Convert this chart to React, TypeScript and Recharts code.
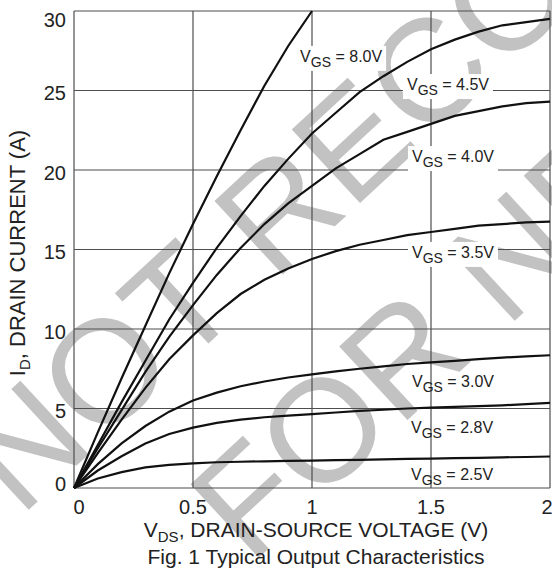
import React from 'react';
import { LineChart, Line, XAxis, YAxis, CartesianGrid, ReferenceDot } from 'recharts';

const vds = [0, 0.1, 0.2, 0.3, 0.4, 0.5, 0.6, 0.7, 0.8, 0.9, 1.0, 1.1, 1.2, 1.3, 1.4, 1.5, 1.6, 1.7, 1.8, 1.9, 2.0];
const id80 = [0, 3.5, 6.9, 10.2, 13.5, 16.6, 19.6, 22.5, 25.3, 27.8, 30, null, null, null, null, null, null, null, null, null, null];
const id45 = [0, 2.7, 5.4, 8.0, 10.6, 12.9, 15.1, 17.1, 19.0, 20.7, 22.3, 23.6, 24.9, 25.9, 26.8, 27.6, 28.2, 28.7, 29.1, 29.3, 29.5];
const id40 = [0, 2.5, 4.9, 7.3, 9.5, 11.5, 13.4, 15.1, 16.6, 17.9, 19.0, 20.1, 21.0, 21.9, 22.4, 22.9, 23.4, 23.7, 24.0, 24.2, 24.3];
const id35 = [0, 2.2, 4.3, 6.3, 8.1, 9.6, 11.0, 12.2, 13.1, 13.8, 14.4, 14.9, 15.3, 15.6, 15.9, 16.1, 16.3, 16.5, 16.6, 16.7, 16.75];
const id30 = [0, 1.5, 2.8, 3.9, 4.8, 5.5, 6.0, 6.4, 6.7, 6.95, 7.15, 7.33, 7.5, 7.65, 7.8, 7.9, 8.0, 8.1, 8.2, 8.28, 8.35];
const id28 = [0, 1.1, 2.0, 2.8, 3.4, 3.8, 4.1, 4.3, 4.45, 4.55, 4.65, 4.75, 4.85, 4.92, 5.0, 5.05, 5.1, 5.15, 5.2, 5.27, 5.35];
const id25 = [0, 0.6, 1.0, 1.3, 1.45, 1.55, 1.62, 1.65, 1.68, 1.7, 1.72, 1.75, 1.77, 1.8, 1.83, 1.85, 1.88, 1.9, 1.93, 1.95, 1.98];

const seriesKeys = ['v80', 'v45', 'v40', 'v35', 'v30', 'v28', 'v25'];
const seriesValues = [id80, id45, id40, id35, id30, id28, id25];

const labelVgs = ['8.0', '4.5', '4.0', '3.5', '3.0', '2.8', '2.5'];
const labelVds = [0.95, 1.399, 1.42, 1.42, 1.42, 1.416, 1.416];
const labelId = [26.8, 25.03, 20.5, 14.47, 6.35, 3.46, 0.5];
const labelBoxed = [true, true, true, true, false, false, false];

const xTicks = [0, 0.5, 1, 1.5, 2];
const yTicks = [0, 5, 10, 15, 20, 25, 30];

const data = vds.map((v, i) => {
  const row: any = { vds: v };
  seriesKeys.forEach((k, s) => {
    row[k] = seriesValues[s][i];
  });
  return row;
});

const FONT = '"Liberation Sans", Arial, Helvetica, sans-serif';
const TXT = '#222';

const YTick = (props: any) => {
  const { y, payload } = props;
  const v = payload.value;
  const off = v === 30 ? 8.7 : v === 0 ? -4 : 2.5;
  return (
    <text x={66} y={y + off + 7} textAnchor="end" fontSize={20} fill={TXT} fontFamily={FONT}>
      {String(v)}
    </text>
  );
};

const XTick = (props: any) => {
  const { x, payload } = props;
  const v = payload.value;
  const off = v === 0 ? 5 : v === 2 ? -3 : 0;
  return (
    <text x={x + off} y={514} textAnchor="middle" fontSize={20} fill={TXT} fontFamily={FONT}>
      {String(v)}
    </text>
  );
};

const makeLabel = (i: number) => (p: any) => {
  const { cx, cy } = p;
  return (
    <g>
      {labelBoxed[i] && <rect x={cx - 4} y={cy - 16} width={90} height={25} fill="#fff" />}
      <text x={cx} y={cy} fontSize={16} fill={TXT} fontFamily={FONT}>
        V
        <tspan fontSize={14} dy={5}>GS</tspan>
        <tspan dy={-5}>{` = ${labelVgs[i]}V`}</tspan>
      </text>
    </g>
  );
};

export default function App() {
  return (
    <div style={{ position: 'absolute', left: 0, top: 0, width: 552, height: 573, background: '#fff' }}>
      <svg width={552} height={573} style={{ position: 'absolute', left: 0, top: 0 }}>
        <g fill="#c2c2c2" fontFamily={FONT} fontSize={146}>
          <text transform="translate(20,518) rotate(-42.8)">NOT RECOMMENDED</text>
          <text transform="translate(250,566) rotate(-42.8)">FOR NEW DESIGN</text>
        </g>
        <text transform="translate(25,253) rotate(-90)" textAnchor="middle" fontSize={22} fill={TXT} fontFamily={FONT}>
          I<tspan fontSize={15} dy={5}>D</tspan>
          <tspan dy={-5}>, DRAIN CURRENT (A)</tspan>
        </text>
        <text x={316} y={537} textAnchor="middle" fontSize={21} fill={TXT} fontFamily={FONT}>
          V<tspan fontSize={15} dy={5}>DS</tspan>
          <tspan dy={-5}>, DRAIN-SOURCE VOLTAGE (V)</tspan>
        </text>
        <text x={316} y={564} textAnchor="middle" fontSize={21} fill={TXT} fontFamily={FONT}>
          Fig. 1 Typical Output Characteristics
        </text>
      </svg>
      <div style={{ position: 'absolute', left: 0, top: 0 }}>
        <LineChart width={552} height={573} data={data} margin={{ top: 11, right: 2, left: 0, bottom: 55 }}>
          <CartesianGrid stroke="#4d4d4d" strokeWidth={1.2} />
          <XAxis
            dataKey="vds"
            type="number"
            domain={[0, 2]}
            ticks={xTicks}
            height={30}
            axisLine={false}
            tickLine={false}
            tick={XTick}
            interval={0}
          />
          <YAxis
            type="number"
            domain={[0, 30]}
            ticks={yTicks}
            width={74}
            axisLine={false}
            tickLine={false}
            tick={YTick}
            interval={0}
          />
          {seriesKeys.map((k) => (
            <Line
              key={k}
              dataKey={k}
              type="linear"
              stroke="#111"
              strokeWidth={2.2}
              dot={false}
              activeDot={false}
              isAnimationActive={false}
            />
          ))}
          {labelVgs.map((_, i) => (
            <ReferenceDot
              key={'lbl' + i}
              x={labelVds[i]}
              y={labelId[i]}
              r={0}
              ifOverflow="visible"
              shape={makeLabel(i)}
            />
          ))}
        </LineChart>
      </div>
    </div>
  );
}
